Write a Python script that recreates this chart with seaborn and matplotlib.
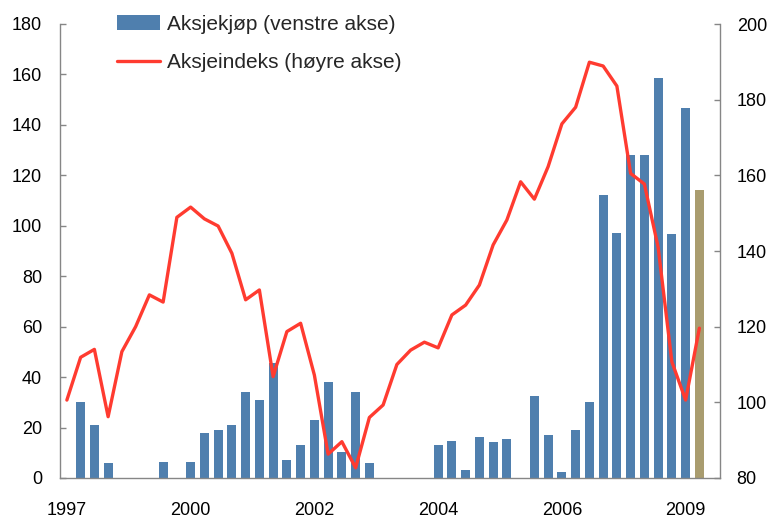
import numpy as np
import pandas as pd
import matplotlib
matplotlib.use("Agg")
import matplotlib.pyplot as plt
import seaborn as sns
from matplotlib.patches import Patch
from matplotlib.lines import Line2D

# ---- data ----
aksjekjop = [0, 30, 21, 6, 0, 0, 0, 6.5, 0, 6.5,
             18, 19, 21, 34, 31, 45.5, 7, 13, 23, 38,
             10.5, 34, 6, 0, 0, 0, 0, 13, 14.5, 3.2,
             16.3, 14.3, 15.6, 0, 32.6, 17, 2.5, 19, 30, 112.3,
             97.3, 128, 128, 158.6, 96.6, 146.8, 114.3, np.nan]
bar_type = ["faktisk"] * 46 + ["anslag"] + ["faktisk"]
aksjeindeks = [100.6, 111.9, 114.0, 96.2, 113.4, 120.0, 128.4, 126.5, 148.9, 151.6,
               148.5, 146.6, 139.4, 127.1, 129.7, 106.8, 118.7, 120.9, 107.2, 86.3,
               89.6, 82.7, 96.0, 99.3, 110.0, 113.8, 115.9, 114.4, 123.1, 125.7,
               131.0, 141.6, 148.2, 158.3, 153.7, 162.3, 173.6, 178.0, 189.9, 188.9,
               183.6, 160.5, 157.7, 141.0, 110.7, 100.6, 119.6]
tick_labels = ["1997", "2000", "2002", "2004", "2006", "2009"]
label_bar = "Aksjekjøp (venstre akse)"
label_line = "Aksjeindeks (høyre akse)"

BLUE = "#4F7FAE"
TAN = "#A99C6F"
RED = "#FF3B30"
GREY = "#868686"

sns.set_style("white")
plt.rcParams["font.family"] = ["Liberation Sans", "DejaVu Sans"]

n = len(aksjekjop)
cats = [str(i) for i in range(n)]
df = pd.DataFrame({"periode": cats, "kjop": aksjekjop, "type": bar_type})
dl = pd.DataFrame({"pos": np.arange(len(aksjeindeks)), "indeks": aksjeindeks})

fig = plt.figure(figsize=(7.75, 5.21), dpi=100)
ax = fig.add_axes([60 / 775, 43 / 521, 660 / 775, 454 / 521])

sns.barplot(data=df, x="periode", y="kjop", hue="type", order=cats,
            palette={"faktisk": BLUE, "anslag": TAN}, dodge=False,
            width=0.65, legend=False, ax=ax, linewidth=0, saturation=1)
ax.set_xlim(-0.5, n - 0.5)
ax.set_ylim(0, 180)
ax.set_yticks(np.arange(0, 181, 20))
ax.set_xlabel("")
ax.set_ylabel("")
ax.set_xticks(range(0, n, 9))
ax.set_xticklabels(tick_labels)

ax2 = ax.twinx()
sns.lineplot(data=dl, x="pos", y="indeks", color=RED, linewidth=2.4, ax=ax2)
ax2.set_ylim(80, 200)
ax2.set_yticks(np.arange(80, 201, 20))
ax2.set_ylabel("")
ax2.set_xlim(-0.5, n - 0.5)

for a in (ax, ax2):
    for s in a.spines.values():
        s.set_color(GREY)
        s.set_linewidth(1.0)
    a.spines["top"].set_visible(False)
ax.spines["right"].set_visible(False)
ax2.spines["left"].set_visible(False)
ax2.spines["bottom"].set_visible(False)

ax.tick_params(axis="y", direction="in", length=4, width=1, color=GREY,
               labelsize=13, pad=13, labelcolor="black")
ax.tick_params(axis="x", length=0, labelsize=13, pad=17, labelcolor="black")
ax2.tick_params(axis="y", direction="in", length=4, width=1, color=GREY,
                labelsize=13, pad=12, labelcolor="black")

handles = [Patch(facecolor=BLUE, edgecolor="none"),
           Line2D([0], [0], color=RED, linewidth=2.4)]
fig.legend(handles, [label_bar, label_line], loc="upper left",
           bbox_to_anchor=(117 / 775, 1 - 15 / 521), frameon=False,
           fontsize=15, handlelength=2.05, handletextpad=0.35,
           labelspacing=0.92, borderpad=0, borderaxespad=0)

fig.savefig("out.png", dpi=100)
